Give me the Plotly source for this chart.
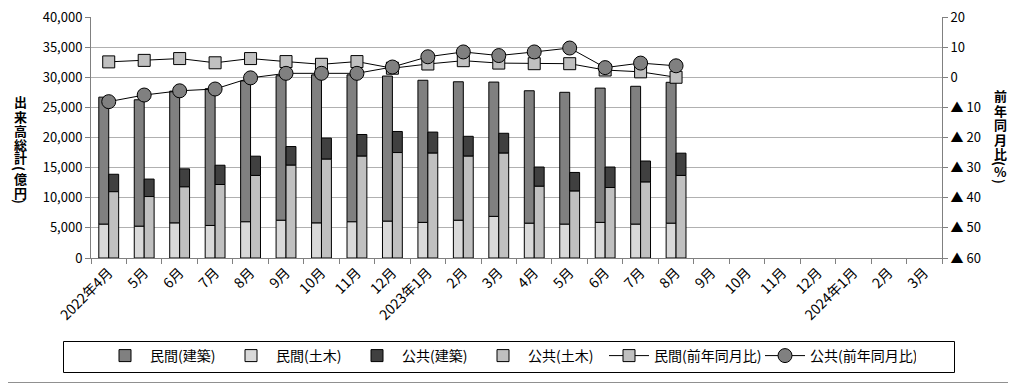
import plotly.graph_objects as go

# ---------------- data ----------------
month_labels = ["2022年4月", "5月", "6月", "7月", "8月", "9月", "10月", "11月", "12月",
                "2023年1月", "2月", "3月", "4月", "5月", "6月", "7月", "8月", "9月",
                "10月", "11月", "12月", "2024年1月", "2月", "3月"]

private_civil = [5600, 5260, 5800, 5400, 6000, 6250, 5800, 6000, 6100, 5900, 6250, 6900,
                 5760, 5600, 5900, 5600, 5760]
private_building = [21100, 21000, 21900, 22700, 23400, 24000, 24600, 24400, 24100, 23600,
                    23000, 22300, 22000, 21900, 22300, 22900, 23400]
public_civil = [11000, 10200, 11800, 12200, 13700, 15400, 16400, 16900, 17500, 17400,
                16900, 17400, 11900, 11100, 11700, 12600, 13700]
public_building = [2900, 2900, 3000, 3200, 3200, 3100, 3500, 3600, 3500, 3500, 3300,
                   3300, 3200, 3100, 3400, 3500, 3700]
private_yoy = [5.1, 5.6, 6.2, 4.8, 6.2, 5.2, 4.3, 5.2, 3.0, 4.4, 5.5, 4.7, 4.5, 4.5,
               2.4, 1.8, 0.0]
public_yoy = [-8.1, -5.9, -4.5, -3.9, -0.2, 1.3, 1.3, 1.3, 3.4, 6.8, 8.4, 7.2, 8.4, 9.7,
              3.2, 4.7, 3.8]

left_ticks = list(range(0, 40001, 5000))
right_ticks = list(range(-60, 21, 10))
right_ticktext = [("▲ " + str(-v)) if v < 0 else str(v) for v in right_ticks]

# ---------------- layout constants ----------------
OFF = 8                     # page body margin of the html page
W, H = 1016 - OFF, 384 - OFF
ML, MR, MT, MB = 91 - OFF, 74, 17 - OFF, 126
PW, PH = W - ML - MR, H - MT - MB
FONT = "Noto Sans CJK JP, Noto Sans, sans-serif"


def xp(sx):
    """screen x pixel -> paper x"""
    return (sx - OFF - ML) / PW


def yp(sy):
    """screen y pixel -> paper y"""
    return (H - MB - (sy - OFF)) / PH


n = len(private_civil)
xs = list(range(n))
bw = 0.28

fig = go.Figure()
line_style = dict(color="black", width=1)
BAR_LW = 71
LINE_LW = 101

fig.add_trace(go.Bar(x=xs, y=private_building, base=private_civil, name="民間(建築)",
                     marker=dict(color="#808080", line=line_style),
                     width=bw, offset=-bw, legendrank=1, legendwidth=BAR_LW))
fig.add_trace(go.Bar(x=xs, y=private_civil, name="民間(土木)",
                     marker=dict(color="#d9d9d9", line=line_style),
                     width=bw, offset=-bw, legendrank=2, legendwidth=BAR_LW))
fig.add_trace(go.Bar(x=xs, y=public_building, base=public_civil, name="公共(建築)",
                     marker=dict(color="#404040", line=line_style),
                     width=bw, offset=0, legendrank=3, legendwidth=BAR_LW))
fig.add_trace(go.Bar(x=xs, y=public_civil, name="公共(土木)",
                     marker=dict(color="#c0c0c0", line=line_style),
                     width=bw, offset=0, legendrank=4, legendwidth=BAR_LW))
fig.add_trace(go.Scatter(x=xs, y=private_yoy, yaxis="y2", mode="lines+markers",
                         name="民間(前年同月比)",
                         line=dict(color="black", width=1),
                         marker=dict(symbol="square", size=12, color="#c0c0c0",
                                     line=dict(color="black", width=1)),
                         legendrank=5, legendwidth=LINE_LW))
fig.add_trace(go.Scatter(x=xs, y=public_yoy, yaxis="y2", mode="lines+markers",
                         name="公共(前年同月比)",
                         line=dict(color="black", width=1),
                         marker=dict(symbol="circle", size=14, color="#808080",
                                     line=dict(color="black", width=1)),
                         legendrank=6, legendwidth=LINE_LW))

fig.update_layout(
    width=W, height=H,
    margin=dict(l=ML, r=MR, t=MT, b=MB, autoexpand=False),
    paper_bgcolor="white", plot_bgcolor="white",
    barmode="overlay",
    font=dict(family=FONT, size=13, color="black"),
    showlegend=True,
    legend=dict(orientation="h", x=xp(100), xanchor="left", y=yp(356), yanchor="middle",
                borderwidth=0, font=dict(size=14), bgcolor="rgba(0,0,0,0)",
                traceorder="normal", itemwidth=40),
    xaxis=dict(range=[-0.5, 23.5], tickmode="array", tickvals=list(range(24)),
               ticktext=month_labels, tickangle=-45, ticks="", showgrid=False,
               showline=True, linecolor="#808080", linewidth=1, zeroline=False,
               tickfont=dict(size=14), automargin=False, ticklabeloverflow="allow",
               minor=dict(tickmode="array", tickvals=[i - 0.5 for i in range(25)],
                          ticks="outside", ticklen=5, tickcolor="#808080", showgrid=False)),
    yaxis=dict(range=[0, 40000], tickmode="array", tickvals=left_ticks,
               ticktext=[f"{v:,}" for v in left_ticks], showgrid=True,
               gridcolor="#b0b0b0", gridwidth=1, showline=True, linecolor="#808080",
               ticks="outside", ticklen=5, tickcolor="#808080", zeroline=False,
               tickfont=dict(size=13), automargin=False, ticklabeloverflow="allow"),
    yaxis2=dict(range=[-60, 20], overlaying="y", side="right", tickmode="array",
                tickvals=right_ticks, ticktext=right_ticktext, showgrid=False,
                showline=True, linecolor="#808080", ticks="outside", ticklen=5,
                tickcolor="#808080", zeroline=False, tickfont=dict(size=13),
                automargin=False, ticklabeloverflow="allow"),
)

# outer border (right and bottom edges visible in the window)
fig.add_shape(type="line", xref="paper", yref="paper",
              x0=xp(1014.5), x1=xp(1014.5), y0=yp(383), y1=yp(OFF),
              line=dict(color="#909090", width=1))
fig.add_shape(type="line", xref="paper", yref="paper",
              x0=xp(OFF), x1=xp(1015), y0=yp(382.5), y1=yp(382.5),
              line=dict(color="#909090", width=1))
# legend frame
fig.add_shape(type="rect", xref="paper", yref="paper",
              x0=xp(63.5), x1=xp(954.5), y0=yp(372.5), y1=yp(341.5),
              line=dict(color="black", width=1), fillcolor="rgba(0,0,0,0)", layer="below")

# vertical axis titles (upright CJK characters, rotated parentheses)
left_title = [("出", 102, 0), ("来", 116, 0), ("高", 130, 0), ("総", 144, 0), ("計", 158, 0),
              ("(", 168, 90), ("億", 178, 0), ("円", 192, 0), (")", 201, 90)]
right_title = [("前", 96, 0), ("年", 111, 0), ("同", 125, 0), ("月", 139, 0), ("比", 153, 0),
               ("(", 163, 90), ("%", 172, 0), (")", 181, 90)]
for items, cx in ((left_title, 20), (right_title, 1000)):
    for ch, cy, ang in items:
        fig.add_annotation(x=xp(cx), y=yp(cy), xref="paper", yref="paper",
                           text=f"<b>{ch}</b>", textangle=ang, showarrow=False,
                           font=dict(size=13, family=FONT),
                           xanchor="center", yanchor="middle")

fig.write_html("out.html")
